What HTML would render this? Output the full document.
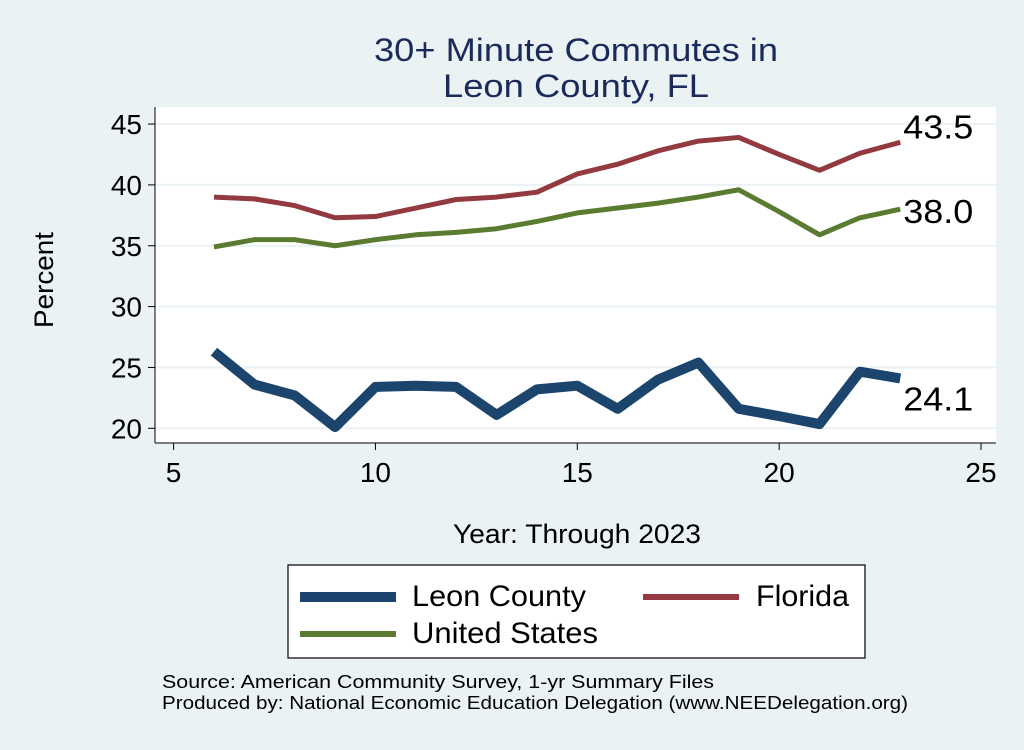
<!DOCTYPE html>
<html><head><meta charset="utf-8"><style>
body{margin:0;width:1024px;height:745px;background:#eaf2f3;font-family:"Liberation Sans",sans-serif;overflow:hidden}
</style></head><body>
<svg id="chart" width="1024" height="745" xmlns="http://www.w3.org/2000/svg" font-family="Liberation Sans, sans-serif">
<rect width="1024" height="745" fill="#eaf2f3"/>
<text x="576" y="61" font-size="32" fill="#1a2a5a" text-anchor="middle" textLength="404" lengthAdjust="spacingAndGlyphs">30+ Minute Commutes in</text>
<text x="576" y="97" font-size="32" fill="#1a2a5a" text-anchor="middle" textLength="266" lengthAdjust="spacingAndGlyphs">Leon County, FL</text>
<rect x="155" y="107" width="841" height="336" fill="#fff"/>
<g id="grid"></g>
<line x1="155" y1="107" x2="155" y2="443" stroke="#000" stroke-width="1"/>
<line x1="155" y1="443" x2="996" y2="443" stroke="#000" stroke-width="1"/>
<g id="ticks"></g>
<g id="series"></g>
<text transform="translate(53,280) rotate(-90)" font-size="27" text-anchor="middle" fill="#000" textLength="96" lengthAdjust="spacingAndGlyphs">Percent</text>
<text x="577" y="543" font-size="27" text-anchor="middle" fill="#000" textLength="248" lengthAdjust="spacingAndGlyphs">Year: Through 2023</text>
<g>
<rect x="288" y="565" width="577" height="93" fill="#fff" stroke="#000" stroke-width="1.2"/>
<line x1="300" y1="597" x2="396" y2="597" stroke="#1c456e" stroke-width="10"/>
<text x="412" y="606" font-size="30" textLength="174" lengthAdjust="spacingAndGlyphs">Leon County</text>
<line x1="643" y1="597" x2="739" y2="597" stroke="#923a40" stroke-width="6"/>
<text x="756" y="606" font-size="30" textLength="93" lengthAdjust="spacingAndGlyphs">Florida</text>
<line x1="300" y1="634" x2="396" y2="634" stroke="#5a7b30" stroke-width="6"/>
<text x="412" y="643" font-size="30" textLength="186" lengthAdjust="spacingAndGlyphs">United States</text>
</g>
<text x="162" y="688" font-size="18" textLength="552" lengthAdjust="spacingAndGlyphs">Source: American Community Survey, 1-yr Summary Files</text>
<text x="162" y="709" font-size="18" textLength="746" lengthAdjust="spacingAndGlyphs">Produced by: National Economic Education Delegation (www.NEEDelegation.org)</text>
</svg>
<script>
const years=[6,7,8,9,10,11,12,13,14,15,16,17,18,19,20,21,22,23];
const leon=[26.3,23.6,22.7,20.1,23.4,23.5,23.4,21.1,23.2,23.5,21.6,24.0,25.4,21.6,21.0,20.35,24.65,24.1];
const florida=[39.0,38.85,38.3,37.3,37.4,38.1,38.8,39.0,39.4,40.9,41.7,42.8,43.6,43.9,42.5,41.2,42.6,43.5];
const us=[34.9,35.5,35.5,35.0,35.5,35.9,36.1,36.4,37.0,37.7,38.1,38.5,39.0,39.6,37.8,35.9,37.3,38.0];
const yTicks=[20,25,30,35,40,45];
const xTicks=[5,10,15,20,25];
const endLabels=["24.1","43.5","38.0"];
const NS="http://www.w3.org/2000/svg";
const xs=v=>173.6+(v-5)*40.37;
const ys=v=>428.3-(v-20)*12.17;
function mk(tag,attrs,parent,text){const e=document.createElementNS(NS,tag);for(const k in attrs)e.setAttribute(k,attrs[k]);if(text!==undefined)e.textContent=text;parent.appendChild(e);return e;}
const grid=document.getElementById('grid'),ticks=document.getElementById('ticks'),ser=document.getElementById('series');
yTicks.forEach(t=>{
 const g=mk('line',{x1:155,x2:996,y1:ys(t),y2:ys(t),stroke:'#eaf2f3','stroke-width':2},grid);
 
 
 mk('line',{x1:148,x2:155,y1:ys(t),y2:ys(t),stroke:'#000'},ticks);
 const l=mk('text',{x:142,y:ys(t)+10,'font-size':28,'text-anchor':'end'},ticks,String(t));
 
 
});
xTicks.forEach(t=>{
 mk('line',{x1:xs(t),x2:xs(t),y1:443,y2:450,stroke:'#000'},ticks);
 const l=mk('text',{x:xs(t),y:482,'font-size':28,'text-anchor':'middle'},ticks,String(t));
 
 
});
function line(vals,color,w,name){
 const p=mk('polyline',{points:vals.map((v,i)=>xs(years[i])+','+ys(v)).join(' '),fill:'none',stroke:color,'stroke-width':w,'stroke-linejoin':'round'},ser);
 
 
}
line(florida,'#923a40',5,'florida-line');
line(us,'#5a7b30',5,'us-line');
line(leon,'#1c456e',10,'leon-county-line');
const last=years.length-1;
[[leon,32,'leon-end-label'],[florida,-4,'florida-end-label'],[us,14,'us-end-label']].forEach((d,i)=>{
 const t=mk('text',{x:xs(years[last])+3,y:ys(d[0][last])+d[1],'font-size':33,textLength:70,lengthAdjust:'spacingAndGlyphs'},ser,endLabels[i]);
 
 
});
</script>
</body></html>
